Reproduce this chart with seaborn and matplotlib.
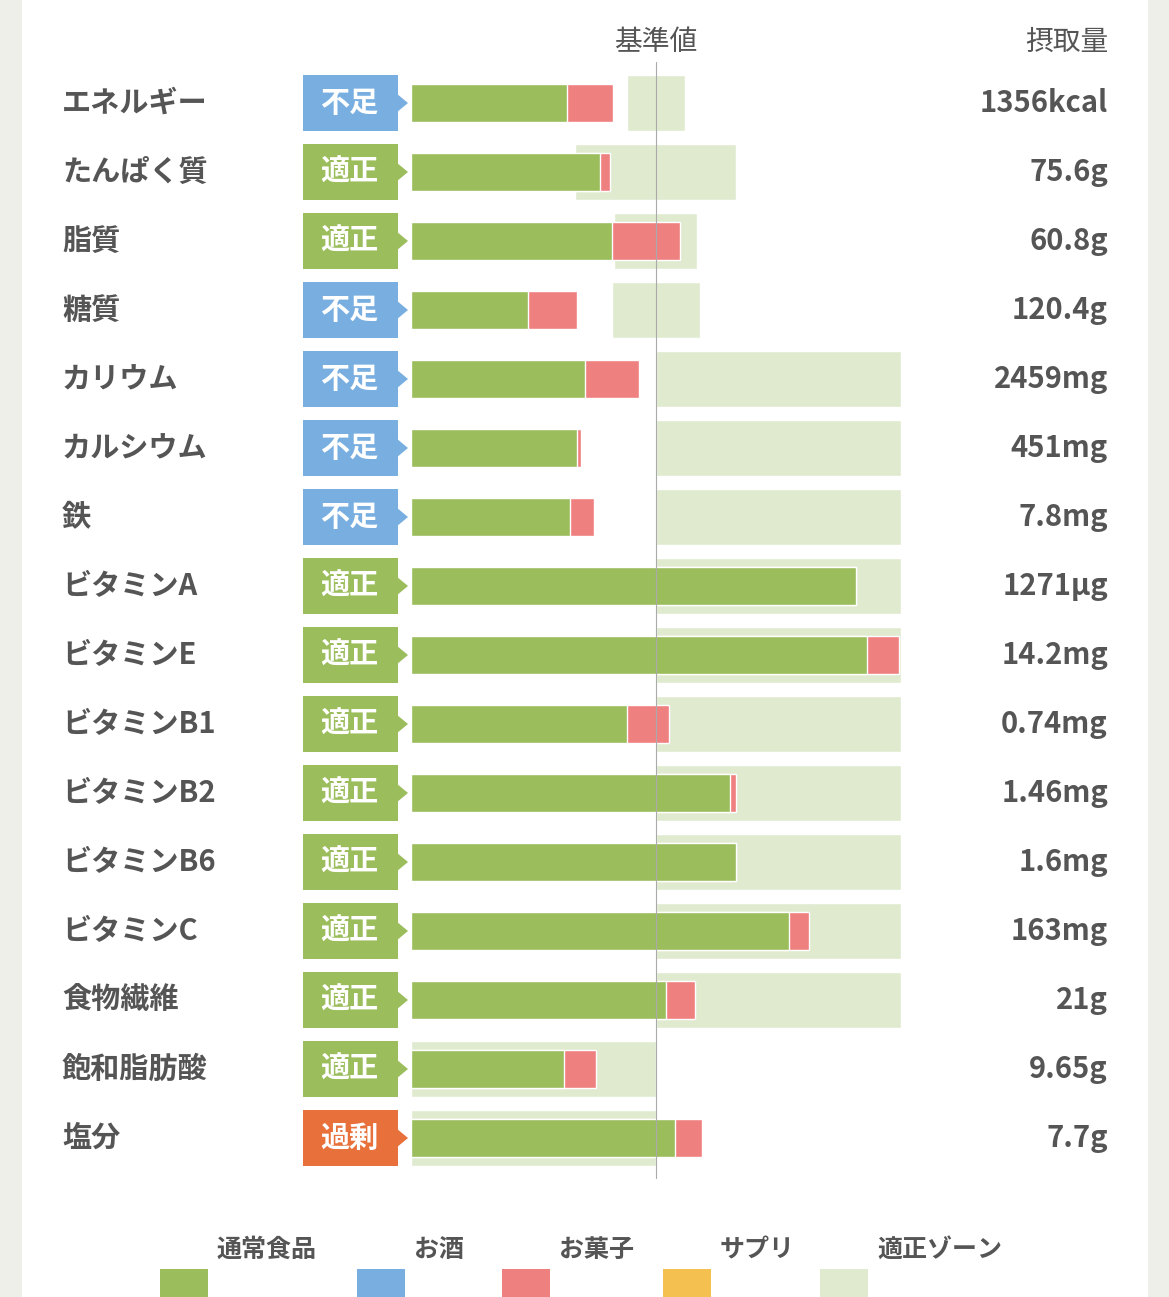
import matplotlib
matplotlib.use("Agg")
import matplotlib.pyplot as plt
import seaborn as sns
import numpy as np
from matplotlib.patches import Rectangle, Polygon

sns.set_theme(style="white")
plt.rcParams['font.family'] = ['Noto Sans CJK JP', 'DejaVu Sans']

names = ["エネルギー","たんぱく質","脂質","糖質","カリウム","カルシウム","鉄","ビタミンA","ビタミンE",
         "ビタミンB1","ビタミンB2","ビタミンB6","ビタミンC","食物繊維","飽和脂肪酸","塩分"]
status = ["不足","適正","適正","不足","不足","不足","不足","適正","適正","適正","適正","適正","適正","適正","適正","過剰"]
food = [63.7,77.1,82.0,47.8,71.0,67.8,64.9,181.6,186.1,88.2,130.2,132.7,154.3,104.1,62.4,107.8]
snack = [18.7,4.1,27.8,20.0,22.1,1.6,9.8,0,13.1,17.1,2.5,0,8.1,11.8,13.1,11.0]
zone_lo = [88.2,66.9,82.9,82.0,100,100,100,100,100,100,100,100,100,100,0,0]
zone_hi = [111.8,132.7,116.7,118.0,200,200,200,200,200,200,200,200,200,200,100,100]
intake = ["1356kcal","75.6g","60.8g","120.4g","2459mg","451mg","7.8mg","1271µg","14.2mg",
          "0.74mg","1.46mg","1.6mg","163mg","21g","9.65g","7.7g"]
legend_labels = ["通常食品","お酒","お菓子","サプリ","適正ゾーン"]

GREEN="#9bbd5c"; BLUE="#79afe0"; PINK="#ef8080"; YEL="#f4c04f"; ZONE="#dfeacf"; ORANGE="#e8703a"
TXT="#555555"
badge_col = {"不足":BLUE,"適正":GREEN,"過剰":ORANGE}

W,H=1169,1297
fig = plt.figure(figsize=(W/100,H/100),dpi=100,facecolor="#efefe9")
ax = fig.add_axes([0,0,1,1])
ax.patch.set_alpha(0)
ax.add_patch(Rectangle((22/W,0),(1148-22)/W,1,transform=ax.transAxes,facecolor="white",edgecolor="none",zorder=0))

S=2.45; X0=411
def px(x): return (x-X0)/S
def py(y): return (y-103)/69

n=len(names)
idx=np.arange(n)
ax.barh(idx, np.array(zone_hi)-np.array(zone_lo), left=zone_lo, height=56/69, color=ZONE, zorder=1)
total=np.array(food)+np.array(snack)
sns.barplot(x=total, y=idx, orient="h", native_scale=True, color=PINK, width=38/69, saturation=1, ax=ax, zorder=2)
sns.barplot(x=food, y=idx, orient="h", native_scale=True, color=GREEN, width=38/69, saturation=1, ax=ax, zorder=3)

ax.set_xlim(px(0),px(W))
ax.set_ylim(py(H),py(0))
ax.axis("off")

ax.plot([100,100],[py(62),py(1178)],color="#aaaaaa",lw=0.8,zorder=4)

for i in range(n):
    ax.text(px(62),i,names[i],ha="left",va="center",fontsize=21,fontweight="bold",color=TXT)
    ax.text(px(1108),i,intake[i],ha="right",va="center",fontsize=21,fontweight="bold",color=TXT)
    h=28/69
    poly=[(px(303),i-h),(px(398),i-h),(px(398),i-0.12),(px(408),i),(px(398),i+0.12),(px(398),i+h),(px(303),i+h)]
    ax.add_patch(Polygon(poly,closed=True,facecolor=badge_col[status[i]],edgecolor="none",zorder=3))
    ax.text(px(349),i,status[i],ha="center",va="center",fontsize=21,fontweight="bold",color="white",zorder=4)

ax.text(100,py(42),"基準値",ha="center",va="center",fontsize=20,color=TXT)
ax.text(px(1108),py(42),"摂取量",ha="right",va="center",fontsize=20,color=TXT)

lx=[160,357,502,663,820]; lc=[GREEN,BLUE,PINK,YEL,ZONE]
for x,c,l in zip(lx,lc,legend_labels):
    ax.add_patch(Rectangle((px(x),py(1269)),48/S,38/69,facecolor=c,edgecolor="none",zorder=2))
    ax.text(px(x+57),py(1250),l,ha="left",va="center",fontsize=18,fontweight="bold",color=TXT)

fig.savefig("out.png",dpi=100,facecolor=fig.get_facecolor())
